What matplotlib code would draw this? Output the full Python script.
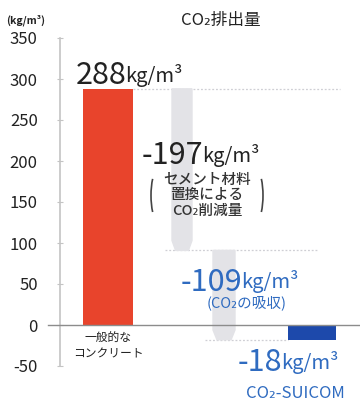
import matplotlib
matplotlib.use("Agg")
import matplotlib.pyplot as plt
from matplotlib.patches import Polygon, Arc

plt.rcParams['font.family'] = ['Noto Sans CJK JP', 'DejaVu Sans']

# data
base_label = "一般的な\nコンクリート"
final_label = "CO₂-SUICOM"
base_value = 288
reductions = [-197, -109]
final_value = -18
y_ticks = [-50, 0, 50, 100, 150, 200, 250, 300, 350]

RED = '#e8442c'
BLUE_BAR = '#1d49ab'
BLUE_TXT = '#2f6bc0'
GRAY_BAR = '#e3e3e7'
DARK = '#222222'

# layout (x in pixel-like units from the y spine)
x_base, w_base = 48, 50
x_red = [122, 164]
w_red = [20, 22]
x_final, w_final = 252, 48

fig = plt.figure(figsize=(3.6, 4.05), dpi=100)
ax = fig.add_axes([60 / 360, (405 - 366) / 405, 300 / 360, (366 - 38) / 405])
ax.set_xlim(0, 300)
ax.set_ylim(-50, 350)

# base bar
ax.bar(x_base, base_value, width=w_base, color=RED, zorder=3)

# waterfall arrows
level = base_value
levels = [level]
for x, w, r in zip(x_red, w_red, reductions):
    top, end = level, level + r
    tip = 12
    pts = [(x - w / 2, top), (x + w / 2, top), (x + w / 2, end + tip),
           (x + w * 0.32, end), (x - w * 0.32, end), (x - w / 2, end + tip)]
    ax.add_patch(Polygon(pts, closed=True, color=GRAY_BAR, zorder=2))
    level = end
    levels.append(level)

ax.bar(x_final, final_value, width=w_final, color=BLUE_BAR, zorder=3)

# dotted connectors
dot = dict(color='#cfcfd4', lw=0.9, linestyle=(0, (1.5, 1.5)), zorder=1)
ax.plot([x_base + w_base / 2, 280], [levels[0]] * 2, **dot)
ax.plot([x_red[0] - 17, 258], [levels[1]] * 2, **dot)
ax.plot([x_red[1] - 19, x_final - w_final / 2], [levels[2]] * 2, **dot)

# zero line
ax.axhline(0, xmin=-12 / 300, xmax=1, color='#8c8c8c', lw=1, zorder=4, clip_on=False)

# axes styling
for s in ['top', 'right', 'bottom']:
    ax.spines[s].set_visible(False)
ax.spines['left'].set_color('#c4c4c4')
ax.spines['left'].set_linewidth(1.2)
ax.set_xticks([])
ax.set_yticks(y_ticks)
ax.set_yticklabels([str(v) for v in y_ticks])
ax.tick_params(axis='y', direction='inout', length=4, color='#c4c4c4',
               labelsize=12, pad=14, labelcolor=DARK)

# texts
fig.text(6 / 360, 1 - 20 / 405, "(kg/m³)", fontsize=7.5, fontweight='bold',
         color=DARK, va='center', ha='left')
fig.text(221 / 360, 1 - 20 / 405, "CO₂排出量", fontsize=12, color=DARK,
         va='center', ha='center')


def value_text(x, y, num, color):
    t = ax.text(x, y, num, fontsize=22, color=color, va='baseline', ha='left',
                zorder=6, clip_on=False)
    ax.annotate("kg/m³", xy=(1, 0), xycoords=t, xytext=(-1.2, 3),
                textcoords='offset points', fontsize=14.5, color=color,
                va='bottom', ha='left', zorder=6, annotation_clip=False)


value_text(16, 294, str(base_value), DARK)
value_text(82, 196, "-" + str(-reductions[0]), DARK)
value_text(121, 42, "-" + str(-reductions[1]), BLUE_TXT)
value_text(178, -56, "-" + str(-final_value), BLUE_TXT)

ax.text(147, 158, "セメント材料\n置換による\nCO₂削減量", fontsize=10.5,
        color='#333333', ha='center', va='center', linespacing=1.1,
        fontweight='medium', zorder=6)
ax.add_patch(Arc((100, 158), 18, 70, theta1=110, theta2=250, color='#444444', lw=1.2, zorder=6))
ax.add_patch(Arc((194, 158), 18, 70, theta1=-70, theta2=70, color='#444444', lw=1.2, zorder=6))

ax.text(187, 27, "(CO₂の吸収)", fontsize=10.5, color=BLUE_TXT, ha='center',
        va='center', zorder=6)
ax.text(x_final - 17, -83, final_label, fontsize=12, color=BLUE_TXT,
        ha='center', va='center', clip_on=False)
ax.text(x_base, -26, base_label, fontsize=8.5, color=DARK, ha='center',
        va='center', linespacing=1.3)

fig.savefig("out.png", dpi=100)
